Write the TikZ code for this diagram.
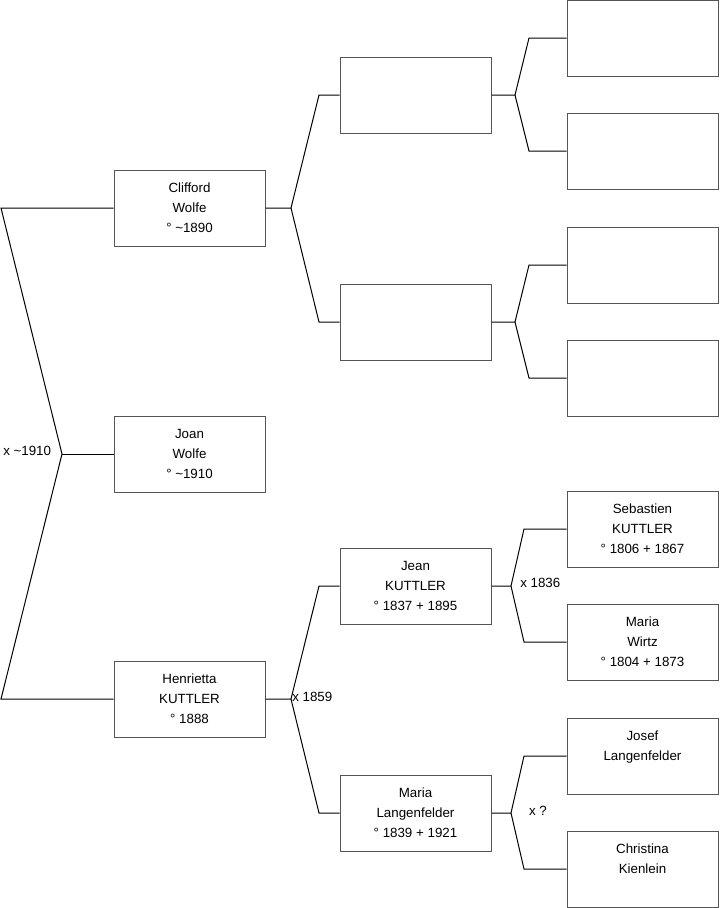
\documentclass[tikz,border=0pt]{standalone}
\usepackage{fontspec}
\setmainfont{Liberation Sans}
\definecolor{boxc}{HTML}{555555}
\begin{document}
\begin{tikzpicture}[x=0.75pt,y=-0.75pt,
  box/.style={draw=boxc, line width=0.75pt, minimum width=113.25pt, minimum height=57pt, inner sep=0pt, align=center, font=\fontsize{10}{15}\selectfont},
  link/.style={draw=black, line width=0.75pt},
  lbl/.style={font=\fontsize{10}{12}\selectfont, inner sep=0pt}]
\useasboundingbox (0,0) rectangle (719,908);
% generation 1
\node[box] (cliff) at (189.5,208) {Clifford\\Wolfe\\° \textasciitilde1890};
\node[box] (joan) at (189.5,454) {Joan\\Wolfe\\° \textasciitilde1910};
\node[box] (henr) at (189.5,699) {Henrietta\\KUTTLER\\° 1888};
% generation 2
\node[box] (ga) at (415.5,95) {};
\node[box] (gb) at (415.5,322) {};
\node[box] (jean) at (415.5,586) {Jean\\KUTTLER\\° 1837 + 1895};
\node[box] (mariaL) at (415.5,813) {Maria\\Langenfelder\\° 1839 + 1921};
% generation 3
\node[box] (h1) at (642.5,38) {};
\node[box] (h2) at (642.5,151) {};
\node[box] (h3) at (642.5,265) {};
\node[box] (h4) at (642.5,378) {};
\node[box] (seb) at (642.5,529) {Sebastien\\KUTTLER\\° 1806 + 1867};
\node[box] (wirtz) at (642.5,642) {Maria\\Wirtz\\° 1804 + 1873};
\node[box] (josef) at (642.5,756) {Josef\\Langenfelder\\\mbox{}};
\node[box] (chris) at (642.5,869) {Christina\\Kienlein\\\mbox{}};
% root fork
\coordinate (l1) at (1,208);
\coordinate (l2) at (1,699);
\coordinate (f0) at (62,454);
\draw[link] (cliff.west) -- (l1) -- (f0) -- (l2) -- (henr.west);
\draw[link] (f0) -- (joan.west);
\node[lbl, anchor=west] (m0) at (3,451) {x \textasciitilde1910};
% Clifford fork
\coordinate (f1) at (291,208);
\coordinate (u1) at (319,95);
\coordinate (d1) at (319,322);
\draw[link] (cliff.east) -- (f1) -- (u1) -- (ga.west);
\draw[link] (f1) -- (d1) -- (gb.west);
% Henrietta fork
\coordinate (f2) at (291,699);
\coordinate (u2) at (319,586);
\coordinate (d2) at (319,813);
\draw[link] (henr.east) -- (f2) -- (u2) -- (jean.west);
\draw[link] (f2) -- (d2) -- (mariaL.west);
\node[lbl, anchor=west] (m1) at (292,697) {x 1859};
% ga fork
\coordinate (f3) at (515,95);
\coordinate (u3) at (529,38);
\coordinate (d3) at (529,151);
\draw[link] (ga.east) -- (f3) -- (u3) -- (h1.west);
\draw[link] (f3) -- (d3) -- (h2.west);
% gb fork
\coordinate (f4) at (515,322);
\coordinate (u4) at (529,265);
\coordinate (d4) at (529,378);
\draw[link] (gb.east) -- (f4) -- (u4) -- (h3.west);
\draw[link] (f4) -- (d4) -- (h4.west);
% Jean fork
\coordinate (f5) at (511,586);
\coordinate (u5) at (524,529);
\coordinate (d5) at (524,642);
\draw[link] (jean.east) -- (f5) -- (u5) -- (seb.west);
\draw[link] (f5) -- (d5) -- (wirtz.west);
\node[lbl, anchor=west] (m2) at (520,583) {x 1836};
% Maria fork
\coordinate (f6) at (511,813);
\coordinate (u6) at (524,756);
\coordinate (d6) at (524,869);
\draw[link] (mariaL.east) -- (f6) -- (u6) -- (josef.west);
\draw[link] (f6) -- (d6) -- (chris.west);
\node[lbl] (m3) at (538,811) {x ?};
\end{tikzpicture}
\end{document}
